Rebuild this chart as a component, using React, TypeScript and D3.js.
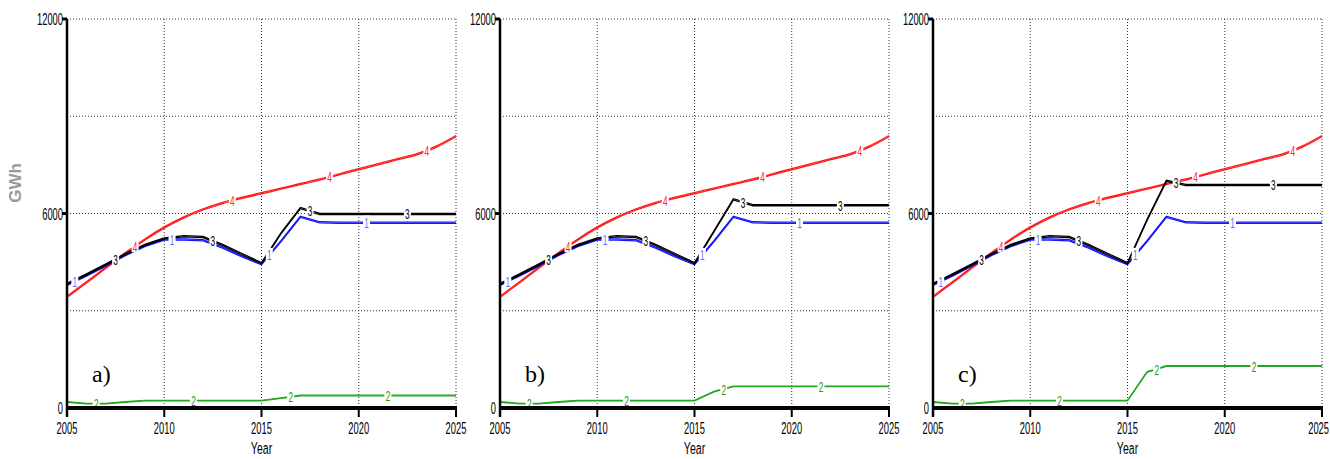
import React from 'react';
import * as d3 from 'd3';

// years on the x axis
const years = [2005, 2006, 2007, 2008, 2009, 2010, 2011, 2012, 2013, 2014, 2015,
  2016, 2017, 2018, 2019, 2020, 2021, 2022, 2023, 2024, 2025];

// series 1 (blue), same in all three runs
const series1 = [3800, 4090, 4400, 4720, 5000, 5200, 5200, 5180, 4950, 4680, 4440,
  5150, 5900, 5730, 5720, 5720, 5720, 5720, 5720, 5720, 5720];

// series 4 (red), same in all three runs
const series4 = [3430, 3880, 4330, 4780, 5200, 5570, 5880, 6130, 6330, 6490, 6630,
  6770, 6910, 7050, 7210, 7370, 7520, 7680, 7830, 8070, 8390];

// series 3 (black) per run
const series3a = [3830, 4120, 4430, 4750, 5030, 5230, 5300, 5280, 5030, 4750, 4470,
  5390, 6170, 5990, 5990, 5990, 5990, 5990, 5990, 5990, 5990];
const series3b = [3830, 4120, 4430, 4750, 5030, 5230, 5300, 5280, 5030, 4750, 4470,
  5450, 6440, 6260, 6260, 6260, 6260, 6260, 6260, 6260, 6260];
const series3c = [3830, 4120, 4430, 4750, 5030, 5230, 5300, 5280, 5030, 4750, 4470,
  5800, 7010, 6880, 6880, 6880, 6880, 6880, 6880, 6880, 6880];

// series 2 (green) per run
const series2a = [180, 130, 130, 180, 220, 220, 220, 220, 220, 220, 220,
  300, 380, 380, 380, 380, 380, 380, 380, 380, 380];
const series2b = [180, 130, 130, 180, 220, 220, 220, 220, 220, 220, 220,
  500, 660, 660, 660, 660, 660, 660, 660, 660, 660];
const series2c = [180, 130, 130, 180, 220, 220, 220, 220, 220, 220, 220,
  1100, 1290, 1290, 1290, 1290, 1290, 1290, 1290, 1290, 1290];

// where the series numbers sit along each line
const labelYears1 = [2005.4, 2010.4, 2015.4, 2020.4];
const labelYears2 = [2006.5, 2011.5, 2016.5, 2021.5];
const labelYears3 = [2007.5, 2012.5, 2017.5, 2022.5];
const labelYears4 = [2008.5, 2013.5, 2018.5, 2023.5];

const xTicks = [2005, 2010, 2015, 2020, 2025];
const xGrid = [2010, 2015, 2020, 2025];
const yGrid = [3000, 6000, 9000, 12000];
const yTickLabels = [0, 6000, 12000];

const runs = [
  { tag: 'a)', s2: series2a, s3: series3a, left: 67 },
  { tag: 'b)', s2: series2b, s3: series3b, left: 500 },
  { tag: 'c)', s2: series2c, s3: series3c, left: 933 },
];

const NARROW = 'Liberation Sans, Arial, sans-serif';

const Narrow = ({ x, y, anchor = 'middle', size = 16, fill = '#000', sx = 0.55, children }: any) => (
  <text
    transform={`translate(${x},${y}) scale(${sx},1)`}
    textAnchor={anchor}
    fontFamily={NARROW}
    fontSize={size}
    fill={fill}
  >
    {children}
  </text>
);

const Panel = ({ run, last }: any) => {
  const x = d3.scaleLinear().domain([2005, 2025]).range([run.left, run.left + 389]);
  const y = d3.scaleLinear().domain([0, 12000]).range([408, 19]);
  const lineAt = (dy: number, smooth: boolean) =>
    d3.line<number>()
      .x((_, i) => x(years[i]))
      .y(d => y(d) + dy)
      .curve(smooth ? d3.curveMonotoneX : d3.curveLinear);

  const series = [
    { vals: series4, color: '#ff1a1a', off: 1.2, smooth: true, lab: '4', labColor: '#ff2a2a', at: labelYears4 },
    { vals: run.s2, color: '#22a822', off: 0.6, smooth: false, lab: '2', labColor: '#179917', at: labelYears2 },
    { vals: series1, color: '#1414ff', off: 1.2, smooth: false, lab: '1', labColor: '#6a6aff', at: labelYears1 },
    { vals: run.s3, color: '#000000', off: 1.2, smooth: false, lab: '3', labColor: '#000', at: labelYears3 },
  ];

  return (
    <g>
      {yGrid.map(v => (
        <line key={'h' + v} x1={x(2005)} x2={x(2025)} y1={y(v)} y2={y(v)}
          stroke="#333" strokeWidth={1} strokeDasharray="1,2" />
      ))}
      {xGrid.map(v => (
        <line key={'v' + v} x1={x(v)} x2={x(v)} y1={y(12000)} y2={y(0)}
          stroke="#333" strokeWidth={1} strokeDasharray="1,2" />
      ))}

      {/* thick lines are two 1px strokes offset vertically */}
      {series.map(s => (
        <g key={'p' + s.lab}>
          <path d={lineAt(-0.5, s.smooth)(s.vals) || ''} fill="none" stroke={s.color} strokeWidth={1.3} />
          <path d={lineAt(-0.5 + s.off, s.smooth)(s.vals) || ''} fill="none" stroke={s.color} strokeWidth={1.3} />
        </g>
      ))}

      {series.map(s => {
        const interp = d3.scaleLinear().domain(years).range(s.vals);
        return s.at.map((yr: number) => {
          const px = x(yr);
          const py = y(interp(yr));
          return (
            <g key={s.lab + yr}>
              <rect x={px - 3.5} y={py - 7} width={7} height={13} fill="#fff" />
              <Narrow x={px} y={py + 5.5} size={15} fill={s.labColor}>{s.lab}</Narrow>
            </g>
          );
        });
      })}

      {/* axes */}
      <line x1={x(2005)} x2={x(2005)} y1={y(12000)} y2={417} stroke="#000" strokeWidth={2.5} />
      <line x1={x(2005) - 1} x2={x(2025) + 1} y1={y(0)} y2={y(0)} stroke="#000" strokeWidth={4} />
      {[6000, 12000].map(v => (
        <rect key={'yt' + v} x={x(2005) - 5} y={y(v) - 1.5} width={5} height={3} fill="#000" />
      ))}
      {xTicks.map(v => (
        <line key={'xt' + v} x1={x(v)} x2={x(v)} y1={y(0)} y2={417} stroke="#000" strokeWidth={2} />
      ))}

      {yTickLabels.map(v => (
        <Narrow key={'yl' + v} x={x(2005) - 4} y={y(v) + 6} anchor="end" size={17}>{v}</Narrow>
      ))}
      {xTicks.map(v => (
        last && v === 2025
          ? <Narrow key={'xl' + v} x={1329} y={434} anchor="end" size={17}>{v}</Narrow>
          : <Narrow key={'xl' + v} x={x(v)} y={434} size={17}>{v}</Narrow>
      ))}
      <Narrow x={x(2015)} y={454} size={17} sx={0.62}>Year</Narrow>

      <text x={x(2005) + 25} y={382} fontFamily="Liberation Serif, Times New Roman, serif" fontSize={24} fill="#000">
        {run.tag}
      </text>
    </g>
  );
};

export default function App() {
  return (
    <svg width={1330} height={459} style={{ position: 'absolute', left: 0, top: 0, background: '#fff' }}>
      <rect width={1330} height={459} fill="#fff" />
      <text transform="translate(21,183) rotate(-90)" textAnchor="middle" fontFamily="Liberation Sans, Arial, sans-serif"
        fontWeight="bold" fontSize={17} fill="#999">GWh</text>
      {runs.map((r, i) => <Panel key={r.tag} run={r} last={i === runs.length - 1} />)}
    </svg>
  );
}
